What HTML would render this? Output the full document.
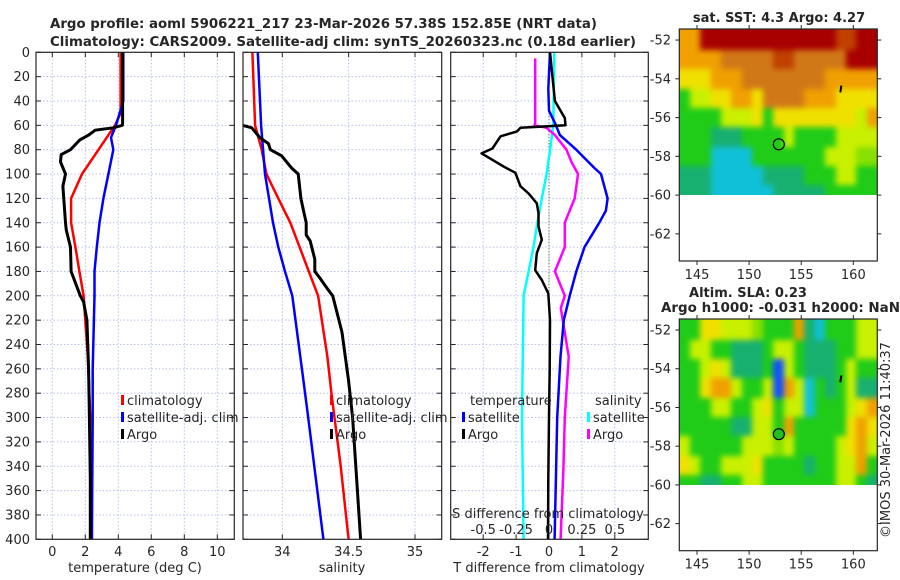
<!DOCTYPE html>
<html><head><meta charset="utf-8"><style>
html,body{margin:0;padding:0;background:#fff;}
#wrap{position:relative;width:900px;height:580px;overflow:hidden;}
#fig{position:absolute;left:0;top:0;z-index:1;}
.mapbox{position:absolute;overflow:hidden;z-index:0;}
.mapinner{position:absolute;filter:blur(3px);}
.mapinner div{position:absolute;}
svg{display:block;font-family:"DejaVu Sans","Liberation Sans",sans-serif;}
</style></head><body>
<div id="wrap">
<div class="mapbox" id="mb1"><div class="mapinner" id="mi1"></div></div>
<div class="mapbox" id="mb2"><div class="mapinner" id="mi2"></div></div>
<svg id="fig" width="900" height="580" viewBox="0 0 900 580" xmlns="http://www.w3.org/2000/svg">
<defs>
<clipPath id="c1"><rect x="36" y="52.3" width="198.3" height="487"/></clipPath>
<clipPath id="c2"><rect x="243" y="52.3" width="198.7" height="487"/></clipPath>
<clipPath id="c3"><rect x="450.7" y="52.3" width="197.6" height="487"/></clipPath>
</defs>
<g id="root"></g>
</svg>
</div>
<script>
// ---------- profile data (depth m, value) ----------
const tClimDepth = [0,50,60,80,100,120,140,160,180,200,250,300,400];
const tClimVal   = [4.14,4.14,3.8,2.8,1.8,1.14,1.14,1.4,1.64,1.9,2.15,2.3,2.4];
const tSatDepth  = [0,40,60,70,80,100,120,140,160,180,200,260,300,400];
const tSatVal    = [4.3,4.3,3.86,3.56,3.7,3.4,3.1,2.86,2.7,2.56,2.56,2.45,2.45,2.4];
const tArgoDepth = [0,58,60,62,64,68,72,80,84,90,100,110,140,146,160,180,200,205,220,260,300,350,400];
const tArgoVal   = [4.26,4.26,4.24,3.7,2.6,2.2,1.66,1.1,0.54,0.5,0.8,0.64,0.8,0.85,1.1,1.14,1.7,1.9,2.1,2.2,2.25,2.3,2.3];

const sClimDepth = [0,60,80,100,120,140,160,180,200,250,280,340,400];
const sClimVal   = [33.775,33.795,33.845,33.88,33.97,34.06,34.13,34.2,34.27,34.34,34.37,34.44,34.5];
const sSatDepth  = [0,60,100,140,160,180,200,270,300,400];
const sSatVal    = [33.815,33.84,33.87,33.93,33.97,34.02,34.075,34.16,34.195,34.31];
const sArgoDepth = [60,62,70,75,80,85,95,100,120,130,140,150,155,170,180,185,195,200,230,270,300,350,400];
const sArgoVal   = [33.70,33.77,33.83,33.895,33.91,33.995,34.07,34.12,34.14,34.16,34.18,34.18,34.21,34.245,34.245,34.28,34.345,34.38,34.45,34.5,34.53,34.56,34.59];

const dTArgoDepth = [0,40,54,60,62,65,69,75,79,83,94,99,110,116,124,132,143,154,165,179,187,198,220,260,300,350,400];
const dTArgoVal   = [0.03,0.18,0.48,0.5,-0.87,-0.97,-1.47,-1.62,-1.72,-2.05,-1.37,-1.02,-0.87,-0.62,-0.37,-0.32,-0.32,-0.22,-0.37,-0.42,-0.22,-0.02,0.03,0.02,0.0,-0.02,-0.03];
const dTSatDepth  = [0,30,48,58,68,80,95,100,120,130,140,160,180,200,220,250,300,400];
const dTSatVal    = [0.03,-0.02,0.0,0.18,0.33,0.83,1.38,1.58,1.78,1.73,1.53,1.08,0.83,0.63,0.45,0.35,0.25,0.17];
// salinity differences (psu); plotted on the S axis (0.5 psu = 2 T units)
const dSArgoDepth = [5,58,60,62,68,80,90,100,120,140,160,180,200,210,250,300,340,400];
const dSArgoVal   = [-0.105,-0.105,-0.11,-0.018,0.045,0.133,0.17,0.22,0.195,0.12,0.12,0.045,0.12,0.09,0.15,0.12,0.11,0.088];
const dSSatDepth  = [0,60,80,100,120,140,160,180,200,300,400];
const dSSatVal    = [0.04,0.033,0.008,-0.018,-0.055,-0.088,-0.118,-0.155,-0.193,-0.205,-0.193];

// ---------- ticks ----------
const depthTicks = [0,20,40,60,80,100,120,140,160,180,200,220,240,260,280,300,320,340,360,380,400];
const tTicks = [0,2,4,6,8,10];
const sTicks = [34,34.5,35];
const sTickLabels = ["34","34.5","35"];
const dTTicks = [-2,-1,0,1,2];
const dSTicks = [-0.5,-0.25,0,0.25,0.5];
const dSTickLabels = ["-0.5","-0.25","0","0.25","0.5"];
const lonTicks = [145,150,155,160];
const latTicks = [-52,-54,-56,-58,-60,-62];

// ---------- map grids (colour level 0..10), rows centred -52..-60 lat, cols 143.3..162.3 lon ----------
const sstGrid = [
[7,7,10,10,10,10,10,10,10,10,10,10,10,10,10,9,9,10,10],
[7,7,7,7,8,8,8,8,8,9,9,8,8,8,8,8,10,10,10],
[6,6,6,7,7,7,8,8,8,8,8,8,8,8,7,7,7,7,7],
[3,5,5,6,6,7,7,6,8,8,8,8,7,7,7,6,6,6,6],
[3,3,3,3,5,5,5,6,3,6,6,6,6,6,6,6,6,5,7],
[3,3,3,2,2,2,3,3,3,3,5,3,3,3,3,5,5,5,5],
[3,3,3,1,1,1,1,3,3,3,3,3,3,3,5,5,5,4,4],
[2,2,2,1,1,1,1,1,2,2,2,2,3,3,3,5,5,3,3],
[2,2,2,1,1,1,1,1,1,2,2,2,2,2,3,3,3,3,3]];
const slaGrid = [
[3,3,6,6,5,5,5,4,3,3,3,7,2,1,3,3,3,5,5],
[3,5,5,3,3,2,2,2,3,5,5,3,2,2,2,3,3,5,5],
[3,3,5,6,5,2,2,2,3,0,5,3,2,2,2,3,5,3,3],
[3,3,6,7,7,5,3,3,5,0,7,5,1,3,2,3,5,2,2],
[3,3,3,5,5,3,3,5,6,3,5,5,1,3,3,3,5,6,7],
[3,3,3,3,3,2,2,5,5,3,7,3,3,3,3,3,6,7,6],
[5,3,3,3,3,3,5,5,5,4,5,3,3,3,3,5,6,7,5],
[6,5,3,3,5,5,5,6,3,3,3,3,2,3,3,5,5,7,3],
[3,3,2,2,3,3,5,5,3,3,3,3,3,3,3,5,5,3,2]];
const palette = ["#1050ff","#10c0d8","#18b070","#20cc18","#88e000","#c8f000","#f0e000","#f0a000","#d07818","#c04000","#a80000"];
const argoLon = 152.85, argoLat = -57.38;

// ---------- helpers ----------
const NS = "http://www.w3.org/2000/svg";
const root = document.getElementById("root");
function mk(tag, attrs, parent){ const e=document.createElementNS(NS,tag); for(const k in attrs) e.setAttribute(k,attrs[k]); (parent||root).appendChild(e); return e; }
function txt(s, attrs, parent){ const e=mk("text",Object.assign({fill:"#262626","font-size":"13"},attrs),parent); e.textContent=s; return e; }
const Y0=52.3, Y1=539.3;
const ys = d => Y0 + (Y1-Y0)*d/400;
const xT = v => 52.3 + 16.5*v;
const xS = v => 282.3 + 132.7*(v-34);
const xD = v => 549 + 32.9*v;
const xDS = v => 549 + 32.9*4*v;
const panels = [{x0:36,x1:234.3,clip:"c1"},{x0:243,x1:441.7,clip:"c2"},{x0:450.7,x1:648.3,clip:"c3"}];

function panelFrame(p, xs, ticks, name){
  const g = mk("g",{});
  
  
  for(const d of depthTicks){
    const l=mk("line",{x1:p.x0,x2:p.x1,y1:ys(d),y2:ys(d),stroke:"#b8c0ec","stroke-width":"1","stroke-dasharray":"1.5,2"},g);
    
    
    mk("line",{x1:p.x0,x2:p.x0+5,y1:ys(d),y2:ys(d),stroke:"#262626"},g);
    mk("line",{x1:p.x1,x2:p.x1-5,y1:ys(d),y2:ys(d),stroke:"#262626"},g);
  }
  for(const t of ticks){
    const l=mk("line",{x1:xs(t),x2:xs(t),y1:Y0,y2:Y1,stroke:"#b8c0ec","stroke-width":"1","stroke-dasharray":"1.5,2"},g);
    
    
    mk("line",{x1:xs(t),x2:xs(t),y1:Y0,y2:Y0+5,stroke:"#262626"},g);
    mk("line",{x1:xs(t),x2:xs(t),y1:Y1,y2:Y1-5,stroke:"#262626"},g);
  }
  return g;
}
function profile(p, xs, D, V, color, w, name){
  const pts = D.map((d,i)=>xs(V[i]).toFixed(1)+","+ys(d).toFixed(1)).join(" ");
  const l = mk("polyline",{points:pts,fill:"none",stroke:color,"stroke-width":w,"stroke-linejoin":"round","clip-path":"url(#"+p.clip+")"});
  
  
}
function border(p){ mk("rect",{x:p.x0,y:Y0,width:p.x1-p.x0,height:Y1-Y0,fill:"none",stroke:"#262626","stroke-width":"1.2"}); }

// ---------- titles ----------
let e;
e=txt("Argo profile: aoml 5906221_217 23-Mar-2026 57.38S 152.85E (NRT data)",{x:50,y:28,"font-weight":"bold","textLength":"547","lengthAdjust":"spacingAndGlyphs"});
 
e=txt("Climatology: CARS2009. Satellite-adj clim: synTS_20260323.nc (0.18d earlier)",{x:50,y:46,"font-weight":"bold","textLength":"586","lengthAdjust":"spacingAndGlyphs"});
 

// ---------- panel 1 temperature ----------
panelFrame(panels[0], xT, tTicks, "temperature-panel");
profile(panels[0], xT, tClimDepth, tClimVal, "#ff0000", 2.5, "temperature-climatology-line");
profile(panels[0], xT, tSatDepth, tSatVal, "#0000ff", 2.5, "temperature-satellite-line");
profile(panels[0], xT, tArgoDepth, tArgoVal, "#000000", 3, "temperature-argo-line");
border(panels[0]);
for(const d of depthTicks){ e=txt(String(d),{x:30,y:ys(d)+4.5,"text-anchor":"end"});   }
for(const t of tTicks){ e=txt(String(t),{x:xT(t),y:556,"text-anchor":"middle"});   }
e=txt("temperature (deg C)",{x:135,y:572,"text-anchor":"middle"});  

// ---------- panel 2 salinity ----------
panelFrame(panels[1], xS, sTicks, "salinity-panel");
profile(panels[1], xS, sClimDepth, sClimVal, "#ff0000", 2.5, "salinity-climatology-line");
profile(panels[1], xS, sSatDepth, sSatVal, "#0000ff", 2.5, "salinity-satellite-line");
profile(panels[1], xS, sArgoDepth, sArgoVal, "#000000", 3, "salinity-argo-line");
border(panels[1]);
sTicks.forEach((t,i)=>{ e=txt(sTickLabels[i],{x:xS(t),y:556,"text-anchor":"middle"});   });
e=txt("salinity",{x:342,y:572,"text-anchor":"middle"});  

// ---------- panel 3 differences ----------
panelFrame(panels[2], xD, dTTicks, "difference-panel");
mk("line",{x1:549,x2:549,y1:Y0+40,y2:Y1,stroke:"#405030","stroke-width":"1","stroke-dasharray":"1,2"});
profile(panels[2], xDS, dSSatDepth, dSSatVal, "#00ffff", 2.5, "salinity-diff-satellite-line");
profile(panels[2], xDS, dSArgoDepth, dSArgoVal, "#ff00ff", 2.5, "salinity-diff-argo-line");
profile(panels[2], xD, dTSatDepth, dTSatVal, "#0000ff", 2.5, "temperature-diff-satellite-line");
profile(panels[2], xD, dTArgoDepth, dTArgoVal, "#000000", 2.5, "temperature-diff-argo-line");
border(panels[2]);
for(const t of dTTicks){ e=txt(String(t),{x:xD(t),y:556,"text-anchor":"middle"});   }
e=txt("T difference from climatology",{x:549,y:572,"text-anchor":"middle"});  
e=txt("S difference from climatology",{x:548,y:518,"text-anchor":"middle"});  
dSTicks.forEach((t,i)=>{ e=txt(dSTickLabels[i],{x:xDS(t),y:534,"text-anchor":"middle"});   });

// ---------- legends ----------
function legendEntry(x,y,color,label,name){
  const g=mk("g",{});  
  mk("rect",{x:x,y:y-10,width:3,height:10,fill:color},g);
  txt(label,{x:x+6,y:y},g);
}
legendEntry(121,405,"#ff0000","climatology","legend-entry-climatology");
legendEntry(121,422,"#0000ff","satellite-adj. clim","legend-entry-satellite");
legendEntry(121,439,"#000000","Argo","legend-entry-argo");
legendEntry(330,405,"#ff0000","climatology","legend-entry-climatology");
legendEntry(330,422,"#0000ff","satellite-adj. clim","legend-entry-satellite");
legendEntry(330,439,"#000000","Argo","legend-entry-argo");
e=txt("temperature",{x:470,y:405});  
legendEntry(462,422,"#0000ff","satellite","legend-entry-t-satellite");
legendEntry(462,439,"#000000","Argo","legend-entry-t-argo");
e=txt("salinity",{x:595,y:405});  
legendEntry(587,422,"#00ffff","satellite","legend-entry-s-satellite");
legendEntry(587,439,"#ff00ff","Argo","legend-entry-s-argo");

// ---------- maps ----------
const MX0=679.3, MX1=877.3, LON0=143.3, LON1=162.3;
const mx = lon => MX0 + (MX1-MX0)*(lon-LON0)/(LON1-LON0);
function drawMap(top, bottom, grid, boxId, innerId, name, filledMarker){
  const latTop=-51.43, latBot=-63.4;
  const my = lat => top + (bottom-top)*(lat-latTop)/(latBot-latTop);
  const dataBottom = my(-60.02);
  const box=document.getElementById(boxId);
  box.style.left=MX0+"px"; box.style.top=top+"px";
  box.style.width=(MX1-MX0)+"px"; box.style.height=(dataBottom-top)+"px";
  const inner=document.getElementById(innerId);
  inner.style.left="-12px"; inner.style.top="-12px";
  inner.style.width=(MX1-MX0+24)+"px"; inner.style.height=(dataBottom-top+24)+"px";
  const rows=grid.length, cols=grid[0].length;
  const latEdges=[latTop]; for(let k=0;k<rows-1;k++) latEdges.push(-52.5-k); latEdges.push(-60.05);
  for(let r=0;r<rows;r++) for(let c=0;c<cols;c++){
    let x=mx(LON0+c)-MX0, x2=mx(LON0+c+1)-MX0+0.6, y=my(latEdges[r])-top, y2=my(latEdges[r+1])-top+0.6;
    if(c===0) x-=12; if(c===cols-1) x2+=12; if(r===0) y-=12; if(r===rows-1) y2+=12;
    const cell=document.createElement("div");
    
    
    cell.style.left=(x+12)+"px"; cell.style.top=(y+12)+"px";
    cell.style.width=(x2-x)+"px"; cell.style.height=(y2-y)+"px";
    cell.style.background=palette[grid[r][c]];
    inner.appendChild(cell);
  }
  mk("line",{x1:mx(158.75),y1:my(-54.7),x2:mx(158.85),y2:my(-54.35),stroke:"#000","stroke-width":"2"});
  const m=mk("circle",{cx:mx(argoLon),cy:my(argoLat),r:5.5,fill:filledMarker?"#20c020":"none",stroke:"#000","stroke-width":"1.2"});
   
  mk("rect",{x:MX0,y:top,width:MX1-MX0,height:bottom-top,fill:"none",stroke:"#262626","stroke-width":"1.2"});
  for(const la of latTicks){
    const y=my(la);
    mk("line",{x1:MX0-4,x2:MX0,y1:y,y2:y,stroke:"#262626"});
    mk("line",{x1:MX1,x2:MX1+4,y1:y,y2:y,stroke:"#262626"});
    e=txt(String(la),{x:671,y:y+4.5,"text-anchor":"end"});  
  }
  for(const lo of lonTicks){
    mk("line",{x1:mx(lo),x2:mx(lo),y1:bottom,y2:bottom+4,stroke:"#262626"});
    mk("line",{x1:mx(lo),x2:mx(lo),y1:top,y2:top-4,stroke:"#262626"});
    e=txt(String(lo),{x:mx(lo),y:bottom+18,"text-anchor":"middle"});  
  }
}
drawMap(29,261,sstGrid,"mb1","mi1","sst-map",false);
drawMap(319,550.7,slaGrid,"mb2","mi2","sla-map",true);
e=txt("sat. SST: 4.3 Argo: 4.27",{x:779,y:22,"text-anchor":"middle","font-weight":"bold"});  
e=txt("Altim. SLA: 0.23",{x:748,y:297,"text-anchor":"middle","font-weight":"bold"});  
e=txt("Argo h1000: -0.031 h2000: NaN",{x:661,y:312,"font-weight":"bold","textLength":"239","lengthAdjust":"spacingAndGlyphs"});  
e=txt("©IMOS 30-Mar-2026 11:40:37",{x:0,y:0,"text-anchor":"middle",transform:"translate(890,440) rotate(-90)"});  
</script>
</body></html>
